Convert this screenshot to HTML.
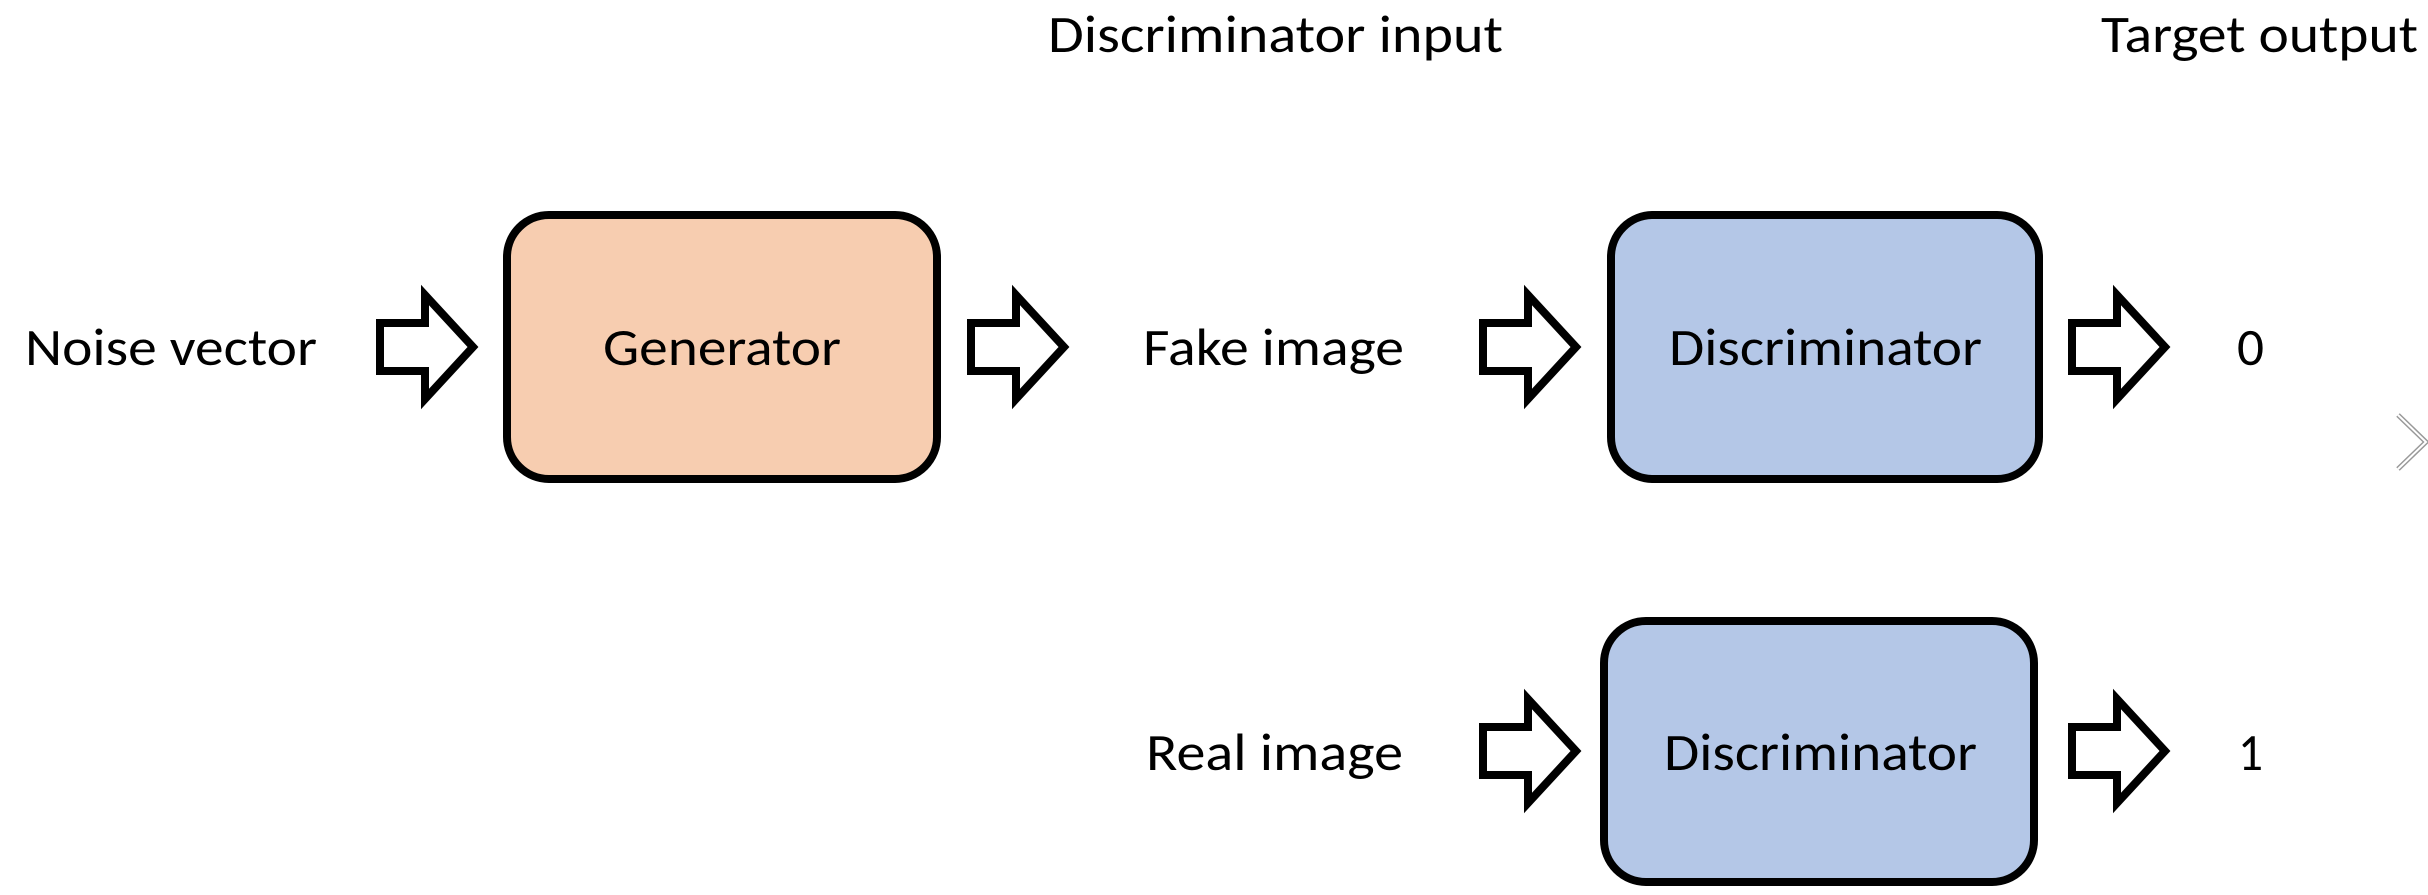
<!DOCTYPE html>
<html><head><meta charset="utf-8"><style>
html,body{margin:0;padding:0;background:#fff;width:2428px;height:895px;overflow:hidden}
svg text{font-family:"Carlito","Liberation Sans",sans-serif;font-size:52px;fill:#000}
</style></head><body>
<svg width="2428" height="895" viewBox="0 0 2428 895" xmlns="http://www.w3.org/2000/svg">
<defs>
<path id="arr" d="M0,-24 L45,-24 L45,-52 L93,0 L45,52 L45,24 L0,24 Z" fill="#fff" stroke="#000" stroke-width="8" stroke-linejoin="miter" stroke-miterlimit="10"/>
</defs>
<text x="1048" y="52" textLength="455" lengthAdjust="spacingAndGlyphs">Discriminator input</text>
<text x="2101" y="52" textLength="317" lengthAdjust="spacingAndGlyphs">Target output</text>

<rect x="507" y="215" width="430" height="264" rx="42" fill="#f7cdb0" stroke="#000" stroke-width="8"/>
<rect x="1611" y="215" width="428" height="264" rx="42" fill="#b4c7e7" stroke="#000" stroke-width="8"/>
<rect x="1604" y="621" width="430" height="261" rx="42" fill="#b4c7e7" stroke="#000" stroke-width="8"/>

<text x="25" y="365" textLength="292" lengthAdjust="spacingAndGlyphs">Noise vector</text>
<text x="603" y="365" textLength="238" lengthAdjust="spacingAndGlyphs">Generator</text>
<text x="1143" y="365" textLength="261" lengthAdjust="spacingAndGlyphs">Fake image</text>
<text x="1669" y="365" textLength="313" lengthAdjust="spacingAndGlyphs">Discriminator</text>
<text x="2237" y="365" textLength="27" lengthAdjust="spacingAndGlyphs">0</text>

<text x="1146" y="770" textLength="257" lengthAdjust="spacingAndGlyphs">Real image</text>
<text x="1664" y="770" textLength="313" lengthAdjust="spacingAndGlyphs">Discriminator</text>
<text x="2238" y="770" textLength="25" lengthAdjust="spacingAndGlyphs">1</text>

<use href="#arr" x="380" y="347"/>
<use href="#arr" x="971" y="347"/>
<use href="#arr" x="1483" y="347"/>
<use href="#arr" x="2072" y="347"/>
<use href="#arr" x="1483" y="751"/>
<use href="#arr" x="2072" y="751"/>

<path d="M2398,415 L2426,442 L2398,469" fill="none" stroke="#999" stroke-width="5"/>
<path d="M2398,415 L2426,442 L2398,469" fill="none" stroke="#fff" stroke-width="2"/>
</svg>
</body></html>
